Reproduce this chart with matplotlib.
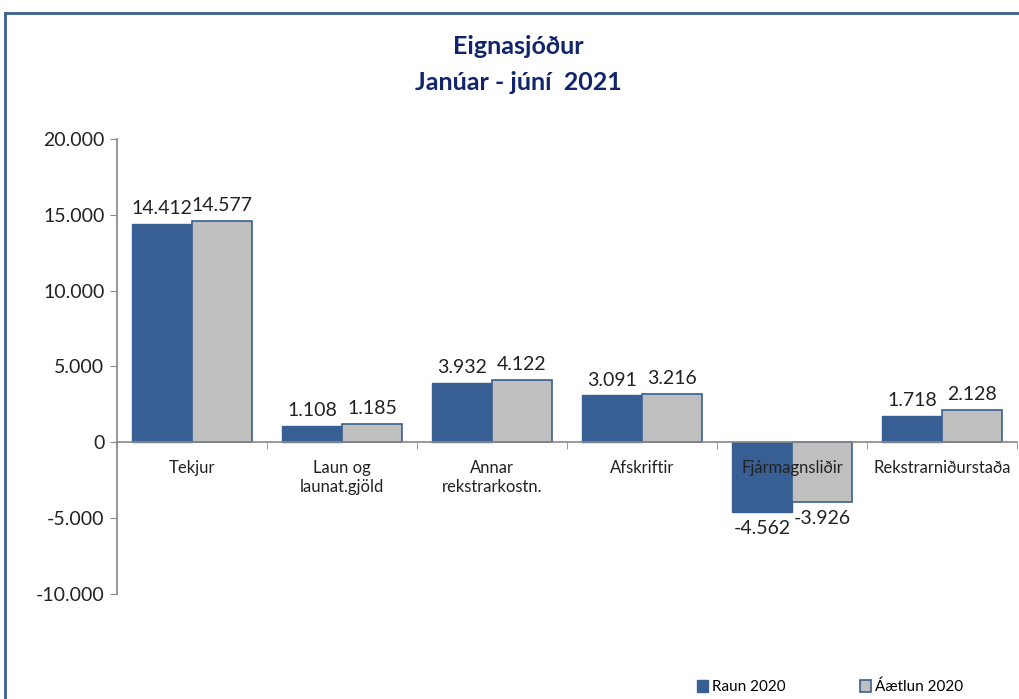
import matplotlib
matplotlib.use("Agg")
import matplotlib.pyplot as plt
import matplotlib.patches as patches
from matplotlib.ticker import FuncFormatter, FixedLocator
import numpy as np

plt.rcParams['font.family'] = ['Lato', 'DejaVu Sans']

categories = ['Tekjur', 'Laun og\nlaunat.gjöld', 'Annar\nrekstrarkostn.',
              'Afskriftir', 'Fjármagnsliðir', 'Rekstrarniðurstaða']
raun = [14412, 1108, 3932, 3091, -4562, 1718]
aaetlun = [14577, 1185, 4122, 3216, -3926, 2128]
series_names = ['Raun 2020', 'Áætlun 2020']

blue = '#375F93'
gray = '#BFBFBF'
edge = '#3A5F8F'
navy = '#10256B'

fig = plt.figure(figsize=(10.19, 6.99), dpi=100)
ax = fig.add_axes([117/1019, 1 - 594/699, 900/1019, (594 - 139)/699])

x = np.arange(len(categories))
w = 0.4
b1 = ax.bar(x - w/2, raun, w, color=blue, edgecolor=blue, linewidth=1, label=series_names[0])
b2 = ax.bar(x + w/2, aaetlun, w, color=gray, edgecolor=edge, linewidth=1.2, label=series_names[1])

def fmt(v):
    s = f"{abs(v):,.0f}".replace(',', '.')
    return '-' + s if v < 0 else s

for bars, vals in ((b1, raun), (b2, aaetlun)):
    for rect, v in zip(bars, vals):
        cx = rect.get_x() + rect.get_width()/2
        if v >= 0:
            ax.annotate(fmt(v), (cx, v), xytext=(0, 5), textcoords='offset points',
                        ha='center', va='bottom', fontsize=14, color='#222222')
        else:
            ax.annotate(fmt(v), (cx, v), xytext=(0, -6), textcoords='offset points',
                        ha='center', va='top', fontsize=14, color='#222222')

ax.set_xlim(-0.5, len(categories) - 0.5)
ax.set_ylim(-10000, 20000)
ax.set_yticks(np.arange(-10000, 20001, 5000))
ax.yaxis.set_major_formatter(FuncFormatter(lambda v, p: fmt(v)))
ax.tick_params(axis='y', labelsize=14, length=5, color='#888888', labelcolor='#222222', pad=4)

ax.spines['top'].set_visible(False)
ax.spines['right'].set_visible(False)
ax.spines['bottom'].set_position(('data', 0))
ax.spines['bottom'].set_color('#888888')
ax.spines['left'].set_color('#888888')
ax.spines['bottom'].set_linewidth(1.2)
ax.spines['left'].set_linewidth(1.2)

ax.set_xticks(x)
ax.set_xticklabels(categories, fontsize=12, color='#222222', va='top')
ax.tick_params(axis='x', which='major', length=0, pad=13)
ax.xaxis.set_minor_locator(FixedLocator(np.arange(-0.5, len(categories), 1.0)))
ax.tick_params(axis='x', which='minor', length=5, color='#888888', direction='out')
ax.set_axisbelow(False)

fig.text(518/1019, 1 - 47/699, 'Eignasjóður', ha='center', va='center',
         fontsize=18, fontweight='bold', color=navy)
fig.text(518/1019, 1 - 82/699, 'Janúar - júní  2021', ha='center', va='center',
         fontsize=18, fontweight='bold', color=navy)

fig.legend(handles=[b1, b2], labels=series_names, loc='center left',
           bbox_to_anchor=(697/1019, 1 - 687/699), ncol=2, frameon=False,
           fontsize=11, handlelength=0.75, handleheight=0.75, handletextpad=0.2,
           columnspacing=4.9, borderpad=0, borderaxespad=0)

frame = patches.Rectangle((4.5/1019, -0.2), 1.2, 1.2 - 12.5/699, transform=fig.transFigure,
                          fill=False, edgecolor=edge, linewidth=2, clip_on=False)
fig.patches.append(frame)

fig.savefig('out.png', dpi=100)
